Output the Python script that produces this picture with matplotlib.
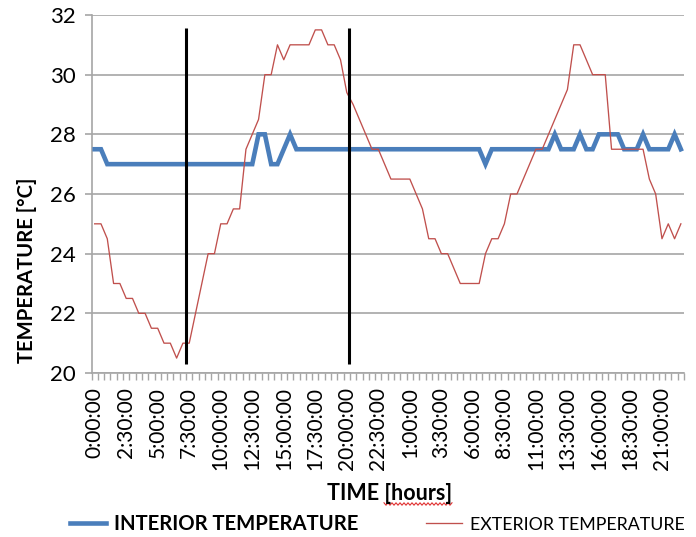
import numpy as np
import matplotlib
matplotlib.use("Agg")
from matplotlib import pyplot as plt
from matplotlib.lines import Line2D

plt.rcParams['font.family'] = ['Lato', 'DejaVu Sans']

# half-hour readings over two days, 0:00:00 -> 22:30:00 of day 2
times = ["%d:%02d:00" % ((k // 2) % 24, 30 * (k % 2)) for k in range(94)]

interior = ([27.5] * 2 + [27] * 24 + [28] * 2 + [27] * 2 + [27.5] + [28]
            + [27.5] * 30 + [27] + [27.5] * 10 + [28] + [27.5] * 3 + [28]
            + [27.5] * 2 + [28] * 4 + [27.5] * 3 + [28] + [27.5] * 4 + [28] + [27.5])

exterior = [25, 25, 24.5, 23, 23, 22.5, 22.5, 22, 22, 21.5,
            21.5, 21, 21, 20.5, 21, 21, 22, 23, 24, 24,
            25, 25, 25.5, 25.5, 27.5, 28, 28.5, 30, 30, 31,
            30.5, 31, 31, 31, 31, 31.5, 31.5, 31, 31, 30.5,
            29.4, 29, 28.5, 28, 27.5, 27.5, 27, 26.5, 26.5, 26.5,
            26.5, 26, 25.5, 24.5, 24.5, 24, 24, 23.5, 23, 23,
            23, 23, 24, 24.5, 24.5, 25, 26, 26, 26.5, 27,
            27.5, 27.5, 28, 28.5, 29, 29.5, 31, 31, 30.5, 30,
            30, 30, 27.5, 27.5, 27.5, 27.5, 27.5, 27.5, 26.5, 26,
            24.5, 25, 24.5, 25]

# the two vertical markers (category positions) and their extent
markers = [14.5, 40.3]
marker_span = (20.3, 31.55)

x = np.arange(len(times))

fig = plt.figure(figsize=(6.96, 5.37), dpi=100)
ax = fig.add_axes([0.1315, 0.3054, 0.8513, 0.6667])

grid_col = '#a6a6a6'
ax.set_ylim(20, 32)
ax.set_xlim(-0.5, len(times) - 0.5)
ax.set_yticks(np.arange(20, 33, 2))
ax.yaxis.grid(True, color=grid_col, lw=1.2)
ax.set_axisbelow(True)

ax.plot(x, interior, color='#4a7ebb', lw=3.3, solid_joinstyle='miter', label='INTERIOR TEMPERATURE', zorder=3)
ax.plot(x, exterior, color='#c0504d', lw=0.95, label='EXTERIOR TEMPERATURE', zorder=4)
ax.vlines(markers, marker_span[0], marker_span[1], color='black', lw=2.2, zorder=5)

for s in ['top', 'right']:
    ax.spines[s].set_visible(False)
for s in ['left', 'bottom']:
    ax.spines[s].set_color(grid_col)
    ax.spines[s].set_linewidth(1.2)

ax.set_xticks(x[::5])
ax.set_xticklabels(times[::5], rotation=90, fontsize=15)
ax.set_xticks(np.arange(-0.5, len(times), 1), minor=True)
ax.tick_params(axis='x', which='major', length=0, pad=10)
ax.tick_params(axis='x', which='minor', length=5, color=grid_col, width=1)
ax.tick_params(axis='y', length=5, color=grid_col, width=1.2, labelsize=16, pad=6)

fig.text(27 / 696, 1 - 270 / 537, 'TEMPERATURE [°C]', rotation=90, ha='center', va='center',
         fontsize=14.6, fontweight='bold')
fig.text(390 / 696, 1 - 493 / 537, 'TIME [hours]', ha='center', va='center',
         fontsize=15.5, fontweight='bold')

# spell-check squiggle under "hours"
zx = np.arange(384, 453, 2.0)
zy = 504 + np.where(np.arange(len(zx)) % 2 == 0, -1.2, 1.2)
fig.add_artist(Line2D(zx / 696, 1 - zy / 537, color='#e03030', lw=0.8))

leg = fig.legend(loc='center', bbox_to_anchor=(0.542, 0.024), ncol=2, frameon=False,
                 fontsize=14.6, handlelength=1.8, columnspacing=3.3, handletextpad=0.4,
                 borderpad=0, borderaxespad=0)
leg.get_texts()[0].set_fontweight('bold')
leg.get_texts()[1].set_fontsize(12.8)

plt.savefig('out.png', dpi=100)
